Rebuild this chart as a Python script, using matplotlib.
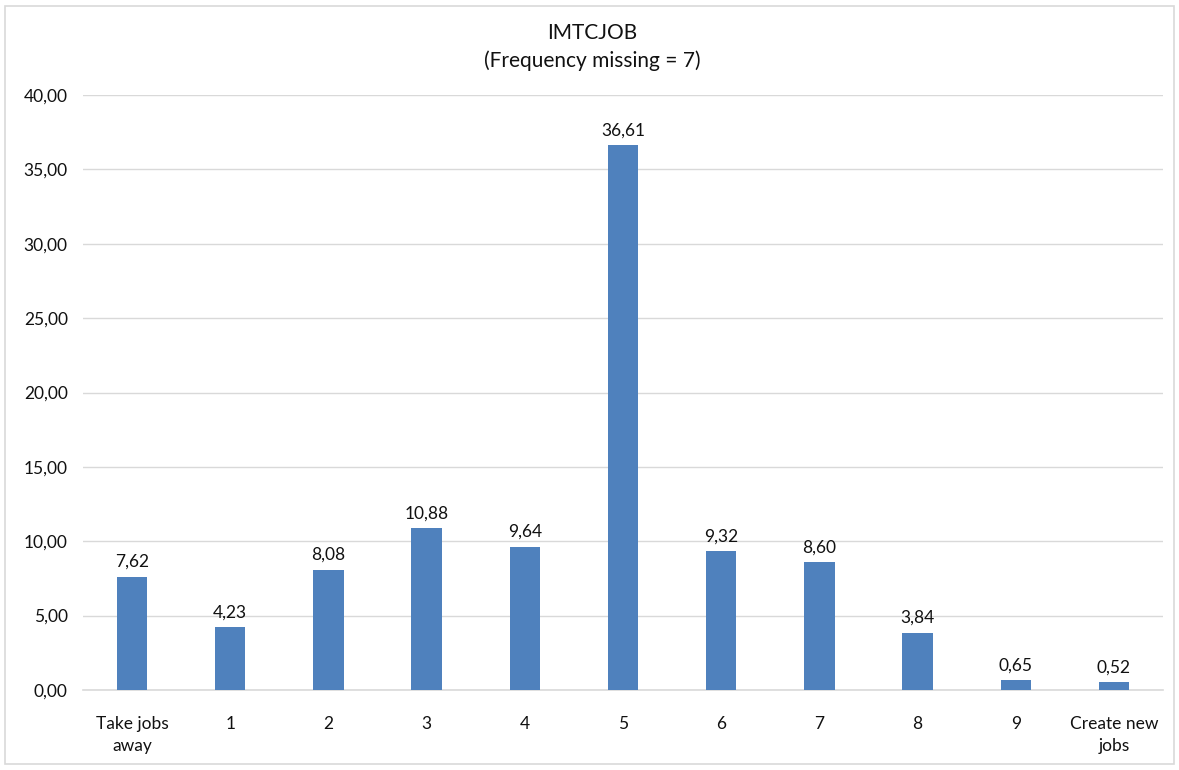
import matplotlib
matplotlib.use("Agg")
import matplotlib.pyplot as plt
from matplotlib.patches import Rectangle

categories = ["Take jobs\naway", "1", "2", "3", "4", "5", "6", "7", "8", "9", "Create new\njobs"]
values = [7.62, 4.23, 8.08, 10.88, 9.64, 36.61, 9.32, 8.60, 3.84, 0.65, 0.52]
yticks = [0, 5, 10, 15, 20, 25, 30, 35, 40]

plt.rcParams['font.family'] = ['Lato', 'DejaVu Sans']

W, H = 1179, 770
fig = plt.figure(figsize=(W / 100, H / 100), dpi=100)
fig.patch.set_facecolor("white")
fig.add_artist(Rectangle((5 / W, 6 / H), (W - 10) / W, (H - 12) / H,
                         transform=fig.transFigure, fill=False,
                         edgecolor="#D9D9D9", linewidth=1.2))

ax = fig.add_axes([83 / W, 1 - 690 / H, (1163 - 83) / W, (690 - 95) / H])
x = range(len(categories))
ax.bar(x, values, width=0.31, color="#4F81BD", zorder=3)

for xi, v in zip(x, values):
    ax.annotate(f"{v:.2f}".replace(".", ","), (xi, v), xytext=(0, 5),
                textcoords="offset points", ha="center", va="bottom",
                fontsize=12.5, color="#111111")

ax.set_xlim(-0.5, len(categories) - 0.5)
ax.set_ylim(0, 40)
ax.set_yticks(yticks)
ax.set_yticklabels([f"{t:.2f}".replace(".", ",") for t in yticks])
ax.set_xticks(list(x))
ax.set_xticklabels(categories, linespacing=1.5)
ax.tick_params(axis="both", length=0, labelsize=12.5, colors="#111111")
ax.tick_params(axis="y", pad=11)
ax.tick_params(axis="x", pad=18.5)
ax.grid(axis="y", color="#D9D9D9", linewidth=1, zorder=0)
for s in ["top", "right", "left"]:
    ax.spines[s].set_visible(False)
ax.spines["bottom"].set_color("#D9D9D9")
ax.spines["bottom"].set_linewidth(1.2)

fig.text(592 / W, 1 - 33 / H, "IMTCJOB", ha="center", va="center", fontsize=15, color="#111111")
fig.text(592 / W, 1 - 61 / H, "(Frequency missing = 7)", ha="center", va="center", fontsize=15, color="#111111")

fig.savefig("out.png", dpi=100)
